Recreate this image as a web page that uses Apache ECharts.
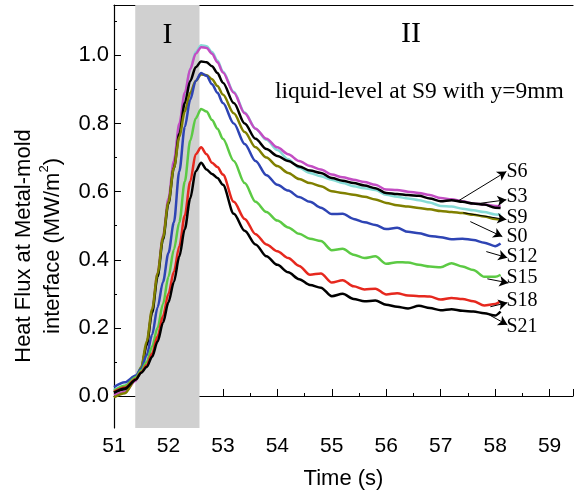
<!DOCTYPE html>
<html>
<head>
<meta charset="utf-8">
<script src="https://cdn.jsdelivr.net/npm/echarts@6/dist/echarts.min.js"></script>
<style>
  html, body { margin: 0; padding: 0; background: #fff; }
  #chart { width: 574px; height: 498px; }
</style>
</head>
<body>
<div id="chart"></div>
<script>
// time axis (s)
const times = [51.0, 51.2, 51.4, 51.5, 51.6, 51.7, 51.8, 51.9, 52.0, 52.1, 52.2, 52.3, 52.4, 52.5, 52.6,
  52.7, 52.8, 52.9, 53.0, 53.2, 53.4, 53.6, 53.8, 54.0, 54.2, 54.4, 54.6, 54.8, 55.0, 55.2, 55.4,
  55.6, 55.8, 56.0, 56.2, 56.4, 56.6, 56.8, 57.0, 57.2, 57.4, 57.6, 57.8, 58.0, 58.1];

// heat flux (MW/m2) per thermocouple
const s9 = [0.018, 0.03, 0.055, 0.085, 0.15, 0.245, 0.35, 0.46, 0.57, 0.68, 0.79, 0.885, 0.96, 1.01, 1.03,
  1.027, 1.01, 0.985, 0.953, 0.893, 0.832, 0.785, 0.752, 0.722, 0.695, 0.67, 0.655, 0.645, 0.635, 0.625,
  0.616, 0.61, 0.605, 0.591, 0.585, 0.58, 0.575, 0.568, 0.558, 0.556, 0.55, 0.545, 0.54, 0.533, 0.532];
const s6 = [0.003, 0.012, 0.045, 0.08, 0.15, 0.25, 0.36, 0.47, 0.58, 0.69, 0.80, 0.89, 0.96, 1.005, 1.024,
  1.022, 1.005, 0.98, 0.95, 0.89, 0.83, 0.785, 0.755, 0.73, 0.71, 0.69, 0.675, 0.665, 0.65, 0.642,
  0.635, 0.628, 0.62, 0.606, 0.605, 0.60, 0.596, 0.59, 0.581, 0.578, 0.572, 0.565, 0.562, 0.558, 0.557];
const s3 = [0.01, 0.02, 0.05, 0.08, 0.15, 0.245, 0.35, 0.46, 0.565, 0.67, 0.77, 0.86, 0.925, 0.965, 0.982,
  0.98, 0.968, 0.948, 0.92, 0.86, 0.80, 0.755, 0.725, 0.705, 0.69, 0.674, 0.662, 0.655, 0.64, 0.632,
  0.625, 0.618, 0.61, 0.596, 0.593, 0.59, 0.588, 0.58, 0.572, 0.575, 0.57, 0.565, 0.562, 0.553, 0.552];
const s0 = [-0.004, 0.008, 0.05, 0.085, 0.16, 0.255, 0.36, 0.465, 0.57, 0.67, 0.76, 0.835, 0.89, 0.925, 0.944,
  0.942, 0.93, 0.91, 0.885, 0.83, 0.775, 0.73, 0.70, 0.675, 0.655, 0.637, 0.625, 0.616, 0.601, 0.596,
  0.591, 0.585, 0.577, 0.567, 0.56, 0.556, 0.552, 0.548, 0.543, 0.54, 0.537, 0.532, 0.527, 0.52, 0.518];
const s12 = [0.026, 0.04, 0.06, 0.08, 0.12, 0.18, 0.26, 0.335, 0.42, 0.51, 0.66, 0.79, 0.87, 0.925, 0.948,
  0.94, 0.915, 0.89, 0.86, 0.80, 0.74, 0.69, 0.648, 0.62, 0.603, 0.584, 0.57, 0.553, 0.534, 0.535,
  0.52, 0.51, 0.502, 0.49, 0.494, 0.482, 0.478, 0.47, 0.466, 0.46, 0.462, 0.458, 0.45, 0.44, 0.448];
const s15 = [0.015, 0.03, 0.055, 0.075, 0.10, 0.145, 0.20, 0.27, 0.35, 0.43, 0.51, 0.63, 0.75, 0.815, 0.843,
  0.835, 0.81, 0.785, 0.755, 0.69, 0.625, 0.57, 0.54, 0.515, 0.495, 0.476, 0.462, 0.455, 0.428, 0.432,
  0.415, 0.405, 0.41, 0.388, 0.393, 0.392, 0.385, 0.38, 0.378, 0.39, 0.38, 0.37, 0.35, 0.35, 0.356];
const s18 = [0.012, 0.025, 0.05, 0.07, 0.09, 0.125, 0.175, 0.235, 0.30, 0.365, 0.44, 0.53, 0.63, 0.71, 0.73,
  0.71, 0.685, 0.672, 0.65, 0.57, 0.52, 0.475, 0.445, 0.425, 0.405, 0.382, 0.356, 0.36, 0.333, 0.34,
  0.322, 0.313, 0.315, 0.298, 0.302, 0.295, 0.293, 0.292, 0.283, 0.288, 0.285, 0.278, 0.266, 0.27, 0.278];
const s21 = [0.01, 0.022, 0.048, 0.068, 0.085, 0.115, 0.16, 0.215, 0.275, 0.335, 0.41, 0.49, 0.58, 0.66, 0.685,
  0.665, 0.652, 0.64, 0.62, 0.535, 0.485, 0.445, 0.41, 0.385, 0.363, 0.343, 0.326, 0.318, 0.293, 0.30,
  0.285, 0.278, 0.28, 0.268, 0.262, 0.257, 0.265, 0.258, 0.252, 0.255, 0.25, 0.248, 0.243, 0.236, 0.248];

// stage I shading (s)
const stageI = [51.39, 52.57];

// y ticks
const yMajor = [0.0, 0.2, 0.4, 0.6, 0.8, 1.0];
const yMinor = [0.1, 0.3, 0.5, 0.7, 0.9, 1.1];

// curve labels and arrows (data coords)
const labelNames = ['S6', 'S3', 'S9', 'S0', 'S12', 'S15', 'S18', 'S21'];
const labelAt = [[58.19, 0.659], [58.19, 0.585], [58.19, 0.524], [58.19, 0.468],
  [58.19, 0.409], [58.19, 0.347], [58.19, 0.279], [58.19, 0.203]];
const arrowFrom = [[57.305, 0.571], [57.691, 0.565], [57.415, 0.538], [57.544, 0.512],
  [57.838, 0.424], [57.857, 0.344], [57.912, 0.262], [57.893, 0.238]];
const arrowTo = [[58.206, 0.659], [58.206, 0.576], [58.206, 0.518], [58.132, 0.468],
  [58.224, 0.406], [58.243, 0.332], [58.224, 0.274], [58.224, 0.209]];

const sans = 'Liberation Sans, Arial, sans-serif';
const serif = 'Liberation Serif, Times New Roman, serif';

function curve(name, vals, color) {
  return {
    name: name,
    type: 'line',
    data: times.map((t, i) => [t, vals[i]]),
    showSymbol: false,
    smooth: 0.3,
    smoothMonotone: 'x',
    lineStyle: { width: 2.5, color: color },
    itemStyle: { color: color },
    z: 3
  };
}

const chart = echarts.init(document.getElementById('chart'));
chart.setOption({
  animation: false,
  grid: { left: 114, right: 1, top: 5, bottom: 70, outerBoundsMode: 'none' },
  xAxis: [{
    type: 'value',
    min: 51, max: 59.43, interval: 1,
    axisLine: { lineStyle: { color: '#000', width: 1.2 } },
    axisTick: { inside: true, length: 7, lineStyle: { color: '#000' } },
    minorTick: { show: true, splitNumber: 2, length: 3, lineStyle: { color: '#000' } },
    splitLine: { show: false },
    axisLabel: { color: '#000', fontSize: 21, fontFamily: sans, margin: 8, showMaxLabel: false },
    name: 'Time (s)',
    nameLocation: 'middle',
    nameGap: 40,
    nameTextStyle: { color: '#000', fontSize: 22, fontFamily: sans }
  }, {
    type: 'value', position: 'top',
    min: 51, max: 59.43,
    axisLine: { show: true, onZero: false, lineStyle: { color: '#000', width: 1.2 } },
    axisTick: { show: false }, axisLabel: { show: false }, splitLine: { show: false }
  }],
  yAxis: [{
    type: 'value',
    min: -0.094, max: 1.148,
    axisLine: { show: true, onZero: false, lineStyle: { color: '#000', width: 1.2 } },
    axisTick: { inside: true, length: 7, customValues: yMajor, lineStyle: { color: '#000' } },
    splitLine: { show: false },
    axisLabel: {
      color: '#000', fontSize: 22, fontFamily: sans, margin: 5,
      customValues: yMajor,
      formatter: v => v.toFixed(1)
    }
  }, {
    type: 'value', position: 'left',
    min: -0.094, max: 1.148,
    axisLine: { show: false },
    axisTick: { show: true, inside: true, length: 3, customValues: yMinor, lineStyle: { color: '#000' } },
    axisLabel: { show: false },
    splitLine: { show: false }
  }],
  graphic: [
    {
      type: 'text', x: 38, y: 246, rotation: Math.PI / 2, z: 20,
      style: {
        text: 'Heat Flux at Metal-mold\ninterface (MW/m{sup|2})',
        fontSize: 22, fontFamily: sans, fill: '#000',
        align: 'center', verticalAlign: 'middle', lineHeight: 29,
        rich: { sup: { fontSize: 13, fontFamily: sans, fill: '#000', lineHeight: 29, verticalAlign: 'top', padding: [0, 0, 12, 0] } }
      }
    },
    {
      type: 'text', x: 167.5, y: 35, z: 20,
      style: { text: 'I', fontSize: 30, fontFamily: serif, fill: '#000', align: 'center', verticalAlign: 'middle' }
    },
    {
      type: 'text', x: 411, y: 34, z: 20,
      style: { text: 'II', fontSize: 30, fontFamily: serif, fill: '#000', align: 'center', verticalAlign: 'middle' }
    },
    {
      type: 'text', x: 275, y: 92, z: 20,
      style: { text: 'liquid-level at S9 with y=9mm', fontSize: 23.5, fontFamily: serif, fill: '#000', align: 'left', verticalAlign: 'middle' }
    }
  ],
  series: [
    {
      type: 'line', data: [], z: 1,
      markArea: {
        silent: true,
        itemStyle: { color: '#d0d0d0' },
        data: [[{ xAxis: stageI[0] }, { xAxis: stageI[1] }]]
      }
    },
    curve('S9', s9, '#86dcd6'),
    curve('S6', s6, '#c34dc3'),
    curve('S3', s3, '#000000'),
    curve('S0', s0, '#808000'),
    curve('S12', s12, '#2e44b4'),
    curve('S15', s15, '#5cca44'),
    curve('S18', s18, '#e6281e'),
    curve('S21', s21, '#000000'),
    {
      type: 'scatter',
      data: labelAt.map((p, i) => ({ value: p, name: labelNames[i] })),
      symbolSize: 0,
      z: 6,
      itemStyle: { opacity: 1, color: '#000' },
      label: {
        show: true, position: 'right', distance: 1, opacity: 1,
        formatter: p => p.name,
        color: '#000', fontSize: 20, fontFamily: serif
      },
      markLine: {
        silent: true,
        symbol: ['none', 'arrow'],
        symbolSize: [8, 9],
        label: { show: false },
        lineStyle: { color: '#000', width: 1, type: 'solid', opacity: 1 },
        data: arrowFrom.map((p, i) => [{ coord: p }, { coord: arrowTo[i] }])
      }
    }
  ]
});
</script>
</body>
</html>
